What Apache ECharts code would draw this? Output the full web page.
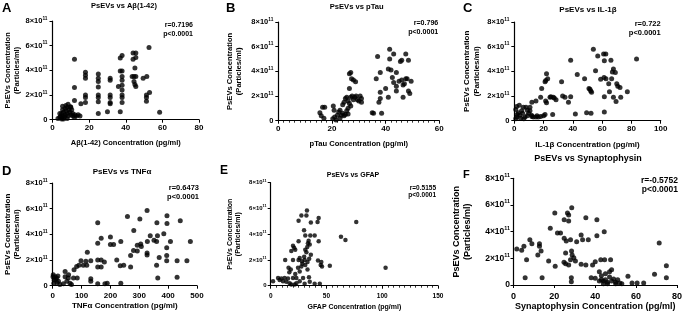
<!DOCTYPE html>
<html>
<head>
<meta charset="utf-8">
<script src="https://cdn.jsdelivr.net/npm/echarts@6/dist/echarts.min.js"></script>
<style>
html, body { margin: 0; padding: 0; background: #fff; }
#chart { width: 685px; height: 317px; }
</style>
</head>
<body>
<div id="chart"></div>
<script>
// values, y in units of 10^11 particles/ml
const yTicks = [0, 2, 4, 6, 8]

const abetaPts = [
  [3,0.1],[4,0.2],[4.5,0.3],[5,0.15],[5,0.5],[5.5,0.8],[5.5,1.1],[6,0.3],[6,0.6],[6.5,0.2],[7,0.4],[7,0.9],
  [7.5,0.7],[8,0.5],[8,1.0],[8.5,0.3],[8.5,1.25],[9,0.8],[9.8,1.05],[9.5,0.6],[10,1.0],[10,0.4],[10.5,0.8],
  [11,0.3],[11,0.5],[12,0.2],[12.2,0.4],[13,0.3],[14,0.4],[15,0.3],[5,0.05],[6,0.05],[8,0.1],[7.3,1.15],[4,0.5],
  [12,4.9],[12,2.6],[12,1.55],[15.5,1.3],[18,3.85],[18,3.6],[18,3.35],[18,2.0],[18,1.8],[18,1.4],
  [25,3.7],[25,3.35],[25,3.1],[25,2.65],[25,2.0],[25,1.8],[25,1.45],[25,0.5],[30,0.65],
  [31.5,3.35],[31.5,3.2],[31.5,2.0],[31.5,1.8],[31.5,1.4],[31.5,1.3],[36,2.7],[37,5.0],[37,3.95],[37,0.65],
  [38,5.2],[38,3.95],[38,3.5],[38,3.2],[38,2.8],[38,2.4],[38,2.0],[38,1.8],[38,1.4],
  [44,5.4],[45.5,5.4],[44,4.9],[45.5,5.05],[45,4.2],[43.5,3.5],[44.5,3.5],[45.5,3.5],[44.5,3.1],[45,2.85],
  [45.5,2.7],[49.5,3.35],[51.5,3.5],[51.3,2.0],[51.3,1.8],[51.3,1.5],[53,2.2],[52.7,5.85],[58.5,0.6]
]

const ptauPts = [
  [15.5,0.65],[16,0.4],[16.5,1.1],[17.3,1.1],[17,0.2],[20.5,1.2],[20.8,0.85],[20.3,0.15],[21,0.3],[22,0.45],
  [22.5,0.7],[23,0.85],[23.5,0.45],[24,0.6],[24.5,0.4],[25,0.5],[25.5,0.8],[26,0.55],[26,1.0],[21.5,0.05],
  [23,0.2],[24,1.3],[24.5,1.5],[25,1.8],[25.5,1.9],[26,1.6],[26.5,2.6],[26.5,3.8],[27,3.9],[27.3,3.4],
  [28,3.3],[28.8,3.15],[26.5,1.4],[27,1.9],[27.5,2.0],[28,1.7],[28.5,1.9],[29,2.0],[29.5,1.7],[30,1.6],
  [30.5,2.0],[31,1.8],[31,1.5],[27,1.2],
  [35,0.65],[35.5,0.6],[36.5,3.4],[37,5.2],[37.5,1.5],[38,1.8],[38,2.3],[38,3.9],[38.5,0.6],[40,2.6],
  [41,1.9],[41,4.2],[41.5,5.8],[41.5,5.0],[42,4.1],[42.5,3.5],[43,5.4],[43,3.1],[44,3.9],[44,2.8],[44,2.4],
  [45,3.2],[45.5,4.8],[46,4.9],[46,3.3],[46.5,2.9],[46.5,1.9],[47,3.0],[47.5,5.4],[47.5,3.4],[48,3.4],
  [48.5,4.9],[48.5,2.4],[49,2.2],[49.5,3.2]
]

const il1bPts = [
  [54,5.8],[57,5.25],[61,5.4],[62.5,5.4],[61.5,4.85],[66,4.9],[83.5,5.0],[38.5,4.9],[55.5,4.05],[43,3.75],
  [48,3.4],[32.3,3.15],[22,3.8],[21.5,3.25],[22.8,3.4],[21,3.15],[18.7,2.6],[59,3.35],[61.3,3.5],[62.6,3.4],
  [64.5,3.0],[67,3.95],[67.7,4.2],[69,3.9],[66.5,3.4],[70,3.0],[70.7,2.8],[72.2,2.7],[65,2.35],[77.2,2.35],
  [72.7,1.9],[67.7,1.9],[61.5,1.95],[69.5,1.55],[51.7,2.55],[52.2,2.4],[52.8,2.3],[51,2.6],[33,2.0],
  [34.6,1.9],[38.5,1.95],[37,1.5],[24.4,1.9],[26.6,1.9],[27.3,1.85],[28.5,1.7],[21.4,1.6],[22,1.45],
  [14.8,1.6],[12,1.5],[26.2,0.5],[41.7,0.55],[49.4,0.65],[52.4,0.6],[61.5,0.7],[25,1.95],[18,1.9],
  [1.6,1.15],[3.4,1.25],[1,0.9],[2.7,0.65],[3.9,0.45],[5,0.8],[6.2,1.1],[8,1.1],[8.9,0.85],[10.7,1.1],
  [10.7,0.8],[11.8,0.45],[13,0.3],[14.8,0.3],[16.4,0.3],[18,0.35],[1.6,0.3],[1,0.15],[4.3,0.2],[7.3,0.3],
  [8.9,0.4],[5.7,0.6],[9.8,0.6],[2,0.5],[6.5,0.15],[12,0.35],[15.5,0.4],[20,0.4],[21,0.5]
]

const tnfaPts = [
  [156,4.9],[259,5.4],[302,5.2],[327,5.85],[361,4.9],[396,5.45],[396,4.85],[442,5.05],[281,4.3],[168,3.7],
  [156,3.3],[200,3.8],[200,3.2],[211,3.2],[236,3.45],[338,3.9],[363,3.9],[385,4.05],[408,3.45],[305,3.25],
  [307,3.05],[328,3.45],[351,3.55],[360,3.45],[293,3.15],[280,2.75],[270,2.35],[293,2.7],[327,2.55],[327,2.4],
  [395,2.95],[395,2.35],[395,1.95],[369,2.2],[360,1.6],[431,1.95],[465,1.95],[477,3.45],[364,0.6],[431,0.65],
  [120,2.6],[98,1.95],[115,1.9],[132,1.95],[106,1.6],[118,1.6],[156,2.0],[168,2.0],[179,1.85],[156,1.45],
  [168,1.45],[222,2.0],[234,1.55],[246,1.6],[270,1.45],[74,1.25],[83,1.5],[91,1.6],[85,0.6],[132,0.55],
  [132,0.35],[156,0.15],[181,0.15],[189,0.2],[236,0.2],
  [2,0.85],[8,0.7],[14,0.6],[5,0.45],[20,0.35],[43,1.1],[43,0.7],[54,0.6],[49,0.35],[72,0.6],[60,0.2],
  [25,0.1],[37,0.15],[65,0.1],[15,0.25],[1,0.7],[4,0.2],[10,0.5],[18,0.75],[55,0.85]
]

const gfapPts = [
  [32.5,5.85],[27.5,5.45],[32,5.45],[25,5.05],[36,4.9],[42,4.95],[43,5.25],[76.7,4.95],[63,3.8],[67,3.55],
  [103,1.4],[29.9,4.3],[31,3.9],[35.5,3.9],[39.4,3.9],[25,3.45],[33.4,3.3],[35,3.2],[32.8,3.0],[43,3.45],
  [20,3.1],[21,2.95],[22,2.8],[18.5,2.7],[31,2.8],[32,2.6],[13,2.0],[20,2.0],[25,2.0],[26,2.15],[30,2.25],
  [30.5,2.0],[33,1.85],[28.4,1.7],[27.5,1.5],[24.5,1.4],[33,1.25],[42.4,1.95],[45.4,1.85],[44.8,1.6],
  [46,1.5],[53,1.55],[16,1.4],[18,1.25],[16.7,1.05],[6.6,0.6],[9.5,0.55],[12.5,0.6],[15.5,0.55],[20,0.6],
  [23,0.6],[29,0.6],[34.3,0.65],[2.1,0.35],[8,0.45],[11,0.35],[14,0.3],[17,0.2],[23,0.2],[26,0.35],
  [30.4,0.15],[35,0.3],[39.4,0.15],[44,0.15],[18.5,0.1],[21.5,0.1],[34,3.5],[36,2.4],[28,1.9],[31,1.6],
  [34.5,2.1],[22,0.9],[26,1.1]
]

const synPts = [
  [28.5,5.8],[20.2,5.4],[24.8,4.9],[26.4,5.4],[27,5.25],[27,4.8],[35.4,5.05],[40.8,4.9],[18,4.25],[21.5,3.9],
  [23,3.9],[24.8,3.5],[27.9,3.4],[25.8,3.3],[30.9,3.25],[33.1,3.75],[33.8,3.4],[36.6,3.4],[40.8,3.7],[44.4,4.0],
  [8,3.4],[9,3.1],[5.1,2.9],[1.6,2.7],[4,2.6],[12.7,3.1],[12.7,2.9],[13.5,2.55],[11.9,2.25],[6.4,1.9],
  [17.2,1.8],[20.4,1.4],[25.5,2.4],[28.4,2.55],[28.7,2.25],[29.5,2.05],[27.9,1.9],[24.7,1.7],[25.5,1.6],
  [27,1.5],[30.3,1.8],[33.1,1.55],[35.4,1.5],[38.7,1.5],[40,1.75],[42.7,1.9],[44.6,1.9],[47.5,1.9],
  [5.7,0.55],[14,0.55],[28.3,0.55],[28.3,0.25],[56,0.65],[58,0.15],[60.5,0.15],[63.7,0.15],[69,0.8],
  [71.3,3.15],[74.8,1.45],[74.8,0.55],
  [38,0.55],[40,0.5],[42,1.0],[43,0.7],[44,0.3],[45,0.4],[45,0.85],[46,0.2],[47,0.6],[47,1.0],[48,1.15],
  [48,0.3],[49,0.45],[50,0.2],[50,0.1],[51,0.4],[52,0.15],[53,0.1],[44,0.1],[46,0.1],[42,0.3],[43,0.4]
]

const letters = ['A', 'B', 'C', 'D', 'E', 'F']
const titles = ['PsEVs vs Aβ(1-42)', 'PsEVs vs pTau', 'PsEVs vs IL-1β', 'PsEVs vs TNFα', 'PsEVs vs GFAP', 'PsEVs vs Synaptophysin']
const stats = ['r=0.7196\np<0.0001', 'r=0.796\np<0.0001', 'r=0.722\np<0.0001', 'r=0.6473\np<0.0001', 'r=0.5155\np<0.0001', 'r=-0.5752\np<0.0001']
const xNames = ['Aβ(1-42) Concentration (pg/ml)', 'pTau Concentration (pg/ml)', 'IL-1β Concentration (pg/ml)',
  'TNFα Concentration (pg/ml)', 'GFAP Concentration (pg/ml)', 'Synaptophysin Concentration (pg/ml)']
const xMax = [80, 60, 100, 500, 150, 80]
const xStep = [20, 20, 20, 100, 50, 20]
const allPts = [abetaPts, ptauPts, il1bPts, tnfaPts, gfapPts, synPts]

// layout of each panel in page pixels
const panels = [
  { grid: [52.5, 21, 146.5, 98.7], fs: 7.5, tfs: 8, letter: [2, 2, 13], title: [124, 6.3], stat: [193, 20.5, 9], yGap: 31, xGap: 19, yM: 5, xM: 4, minor: false },
  { grid: [278.3, 22, 161, 98.7], fs: 7.6, tfs: 8, letter: [226, 2, 13], title: [356.7, 7], stat: [438.3, 18.5, 9], yGap: 35, xGap: 19, yM: 5, xM: 4, minor: true },
  { grid: [514.3, 22, 146.4, 98.7], fs: 8, tfs: 8, letter: [463, 2, 13], title: [588, 10], stat: [660.7, 19.5, 9], yGap: 33, xGap: 20, yM: 5, xM: 4, minor: false },
  { grid: [52.7, 183, 144.3, 102.7], fs: 8, tfs: 8, letter: [2, 165, 13], title: [122, 172], stat: [199, 183.5, 9], yGap: 31, xGap: 16, yM: 5, xM: 6, minor: false },
  { grid: [270.7, 182.7, 167.3, 103], fs: 7, tfs: 6.5, letter: [220, 165, 12], title: [353, 175], stat: [436, 185, 6.5], yGap: 28, xGap: 18, yM: 4, xM: 7, minor: true },
  { grid: [513.5, 178.3, 166, 106.7], fs: 9, tfs: 9, letter: [463, 169, 11], title: [588, 159], stat: [678, 176.5, 8.5], yGap: 41, xGap: 17, yM: 3.5, xM: 7, minor: false }
]

const font = '"Liberation Sans", Arial, sans-serif'

function yLabel (v) {
  return v === 0 ? '{n|0}' : '{n|' + v + '×10}{s|11}'
}

const grids = []
const xAxes = []
const yAxes = []
const series = []
const graphics = []

panels.forEach((p, i) => {
  grids.push({ left: p.grid[0], top: p.grid[1], width: p.grid[2], height: p.grid[3] })
  xAxes.push({
    gridIndex: i,
    type: 'value',
    min: 0,
    max: xMax[i],
    interval: xStep[i],
    name: xNames[i],
    nameLocation: 'middle',
    nameGap: p.xGap,
    nameTextStyle: { color: '#000', fontFamily: font, fontWeight: 'bold', fontSize: p.fs },
    axisLine: { lineStyle: { color: '#000', width: 1.2 } },
    axisTick: { length: 3, lineStyle: { color: '#000', width: 1 } },
    minorTick: { show: p.minor, splitNumber: 10, length: 2, lineStyle: { color: '#000', width: 0.8 } },
    axisLabel: { margin: p.xM, color: '#000', fontFamily: font, fontWeight: 'bold', fontSize: p.tfs },
    splitLine: { show: false }
  })
  yAxes.push({
    gridIndex: i,
    type: 'value',
    min: 0,
    max: 8,
    interval: 2,
    name: 'PsEVs Concentration\n(Particles/ml)',
    nameLocation: 'middle',
    nameRotate: 90,
    nameGap: p.yGap,
    nameTextStyle: { color: '#000', fontFamily: font, fontWeight: 'bold', fontSize: p.fs, lineHeight: p.fs + 1.5 },
    axisLine: { show: true, lineStyle: { color: '#000', width: 1.2 } },
    axisTick: { show: true, length: 3, lineStyle: { color: '#000', width: 1 } },
    axisLabel: {
      margin: p.yM,
      formatter: yLabel,
      rich: {
        n: { color: '#000', fontFamily: font, fontWeight: 'bold', fontSize: p.tfs - 0.5, lineHeight: p.tfs + 2 },
        s: { color: '#000', fontFamily: font, fontWeight: 'bold', fontSize: p.tfs * 0.6, verticalAlign: 'top', lineHeight: p.tfs * 0.6 }
      }
    },
    splitLine: { show: false }
  })
  series.push({
    type: 'scatter',
    xAxisIndex: i,
    yAxisIndex: i,
    data: allPts[i],
    symbolSize: i === 4 ? 4.5 : 5,
    itemStyle: { color: '#000' },
    silent: true
  })
  graphics.push({
    type: 'text', x: p.letter[0], y: p.letter[1],
    style: { text: letters[i], fill: '#000', font: 'bold ' + p.letter[2] + 'px ' + font, textVerticalAlign: 'top' }
  })
  graphics.push({
    type: 'text', x: p.title[0], y: p.title[1],
    style: { text: titles[i], fill: '#000', font: 'bold ' + p.fs + 'px ' + font, textAlign: 'center', textVerticalAlign: 'middle' }
  })
  graphics.push({
    type: 'text', x: p.stat[0], y: p.stat[1],
    style: { text: stats[i], fill: '#000', font: 'bold ' + (p.fs - 0.5) + 'px ' + font, lineHeight: p.stat[2], textAlign: 'right', textVerticalAlign: 'top' }
  })
})

const chart = echarts.init(document.getElementById('chart'), null, { renderer: 'canvas' })
chart.setOption({
  animation: false,
  textStyle: { fontFamily: font },
  grid: grids,
  xAxis: xAxes,
  yAxis: yAxes,
  series: series,
  graphic: graphics
})
</script>
</body>
</html>
